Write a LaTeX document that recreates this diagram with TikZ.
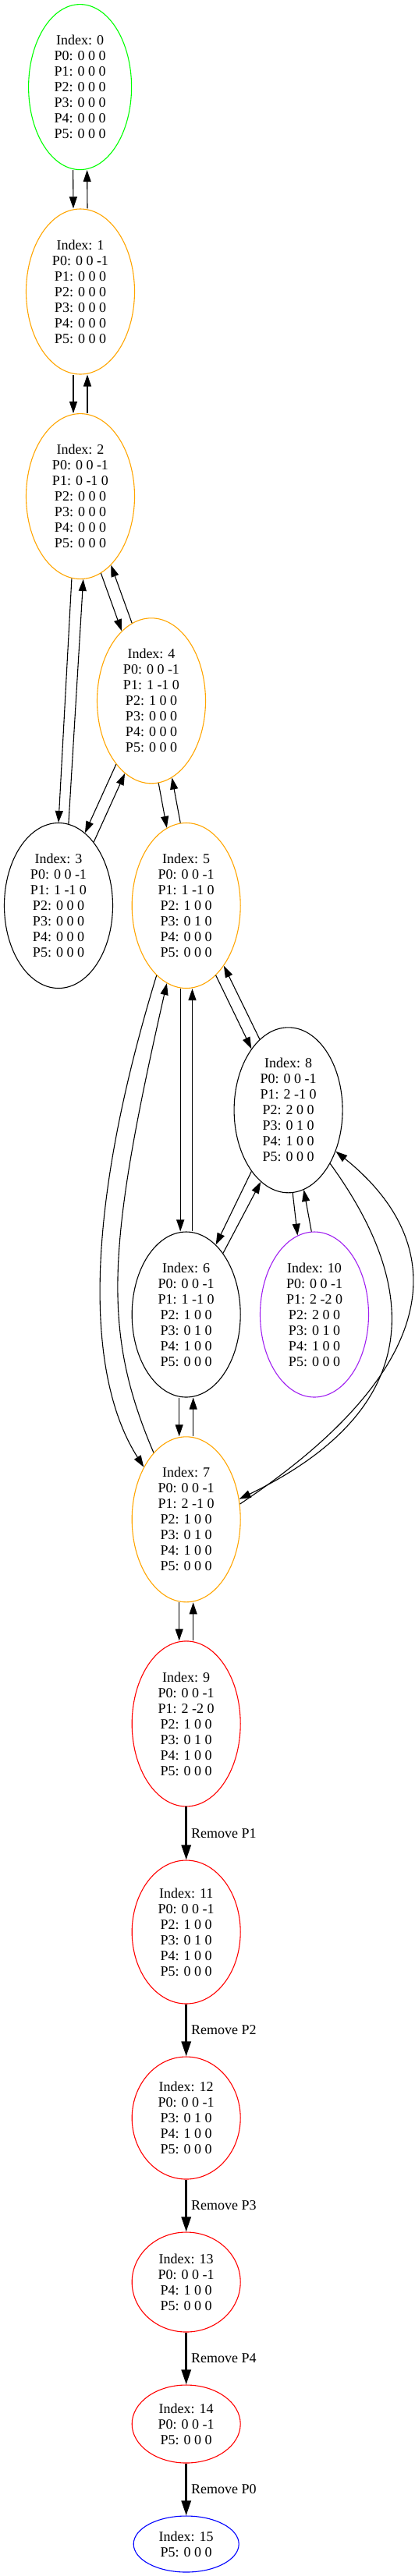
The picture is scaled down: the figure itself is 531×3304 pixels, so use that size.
\documentclass[tikz,border=0pt]{standalone}
\usepackage{fontspec}
\setmainfont{Liberation Serif}
\usetikzlibrary{shapes.geometric, arrows.meta}
\definecolor{gvgreen}{RGB}{0,255,0}
\definecolor{gvorange}{RGB}{255,165,0}
\definecolor{gvpurple}{RGB}{160,32,240}
\definecolor{gvred}{RGB}{255,0,0}
\definecolor{gvblue}{RGB}{0,0,255}

\begin{document}
\begin{tikzpicture}[x=1pt, y=-1pt]
	\tikzstyle{statebox}=[ellipse, draw=black, line width=1.1pt, inner sep=0pt, minimum width=139pt, minimum height=212pt, align=center, font=\fontsize{18}{20}\selectfont]
	\tikzstyle{transarc}=[line width=1.1pt, -{Triangle[length=15pt, width=10pt]}]
	\tikzstyle{removearc}=[line width=2.7pt, -{Triangle[length=19pt, width=12pt]}]

	\useasboundingbox (0,0) rectangle (531,3304);

	% states
	\node[statebox, draw=gvgreen, minimum width=132pt] (state0) at (102.6,111.6) {Index: 0\\P0: 0 0 0\\P1: 0 0 0\\P2: 0 0 0\\P3: 0 0 0\\P4: 0 0 0\\P5: 0 0 0};
	\node[statebox, draw=gvorange] (state1) at (103,374) {Index: 1\\P0: 0 0 -1\\P1: 0 0 0\\P2: 0 0 0\\P3: 0 0 0\\P4: 0 0 0\\P5: 0 0 0};
	\node[statebox, draw=gvorange] (state2) at (103,636.6) {Index: 2\\P0: 0 0 -1\\P1: 0 -1 0\\P2: 0 0 0\\P3: 0 0 0\\P4: 0 0 0\\P5: 0 0 0};
	\node[statebox, draw=gvorange] (state4) at (194,898.8) {Index: 4\\P0: 0 0 -1\\P1: 1 -1 0\\P2: 1 0 0\\P3: 0 0 0\\P4: 0 0 0\\P5: 0 0 0};
	\node[statebox] (state3) at (75,1161.5) {Index: 3\\P0: 0 0 -1\\P1: 1 -1 0\\P2: 0 0 0\\P3: 0 0 0\\P4: 0 0 0\\P5: 0 0 0};
	\node[statebox, draw=gvorange] (state5) at (238.7,1161.5) {Index: 5\\P0: 0 0 -1\\P1: 1 -1 0\\P2: 1 0 0\\P3: 0 1 0\\P4: 0 0 0\\P5: 0 0 0};
	\node[statebox] (state8) at (369.6,1423.8) {Index: 8\\P0: 0 0 -1\\P1: 2 -1 0\\P2: 2 0 0\\P3: 0 1 0\\P4: 1 0 0\\P5: 0 0 0};
	\node[statebox] (state6) at (238.7,1686) {Index: 6\\P0: 0 0 -1\\P1: 1 -1 0\\P2: 1 0 0\\P3: 0 1 0\\P4: 1 0 0\\P5: 0 0 0};
	\node[statebox, draw=gvpurple] (state10) at (403,1686) {Index: 10\\P0: 0 0 -1\\P1: 2 -2 0\\P2: 2 0 0\\P3: 0 1 0\\P4: 1 0 0\\P5: 0 0 0};
	\node[statebox, draw=gvorange] (state7) at (238.7,1948.8) {Index: 7\\P0: 0 0 -1\\P1: 2 -1 0\\P2: 1 0 0\\P3: 0 1 0\\P4: 1 0 0\\P5: 0 0 0};
	\node[statebox, draw=gvred] (state9) at (238.7,2210.9) {Index: 9\\P0: 0 0 -1\\P1: 2 -2 0\\P2: 1 0 0\\P3: 0 1 0\\P4: 1 0 0\\P5: 0 0 0};
	\node[statebox, draw=gvred, minimum height=184pt] (state11) at (238.7,2478) {Index: 11\\P0: 0 0 -1\\P2: 1 0 0\\P3: 0 1 0\\P4: 1 0 0\\P5: 0 0 0};
	\node[statebox, draw=gvred, minimum height=157pt] (state12) at (238.7,2716.5) {Index: 12\\P0: 0 0 -1\\P3: 0 1 0\\P4: 1 0 0\\P5: 0 0 0};
	\node[statebox, draw=gvred, minimum height=128pt] (state13) at (238.7,2927) {Index: 13\\P0: 0 0 -1\\P4: 1 0 0\\P5: 0 0 0};
	\node[statebox, draw=gvred, minimum height=100pt] (state14) at (238.7,3109) {Index: 14\\P0: 0 0 -1\\P5: 0 0 0};
	\node[statebox, draw=gvblue, minimum width=135pt, minimum height=72pt] (state15) at (238.7,3263) {Index: 15\\P5: 0 0 0};

	% straight pairs
	\foreach \a/\b in {0/1, 1/2, 6/7, 7/9}{
		\draw[transarc] ([xshift=-9pt]state\a.south) -- ([xshift=-9pt]state\b.north);
		\draw[transarc] ([xshift=9pt]state\b.north) -- ([xshift=9pt]state\a.south);
	}
	\draw[transarc] ([xshift=-7.5pt]state5.south) -- ([xshift=-7.5pt]state6.north);
	\draw[transarc] ([xshift=7.8pt]state6.north) -- ([xshift=7.8pt]state5.south);

	% diagonal pairs
	\draw[transarc] (state2.-96.8) -- (state3.90.6);
	\draw[transarc] (state3.83) -- (state2.-88.9);
	\draw[transarc] (state2.-75.6) -- (state4.113.9);
	\draw[transarc] (state4.104.8) -- (state2.-66.2);
	\draw[transarc] (state4.-119.1) -- (state3.70.4);
	\draw[transarc] (state3.61.4) -- (state4.-110.2);
	\draw[transarc] (state4.-85) -- (state5.104.4);
	\draw[transarc] (state5.94.9) -- (state4.-75.2);
	\draw[transarc] (state5.-67.7) -- (state8.121.1);
	\draw[transarc] (state8.112.1) -- (state5.-58.2);
	\draw[transarc] (state8.-121.2) -- (state6.67.9);
	\draw[transarc] (state6.59.2) -- (state8.-111.9);
	\draw[transarc] (state8.-87.5) -- (state10.102.9);
	\draw[transarc] (state10.92.7) -- (state8.-79);

	% long curves
	\draw[transarc] (state5.-113.6) .. controls (100,1581.6) and (116,1774.5) .. (state7.129.2);
	\draw[transarc] (state7.116) .. controls (130.1,1706.3) and (137.2,1599.3) .. (state5.-104.5);
	\draw[transarc] (state7.16.6) .. controls (573.9,1751.3) and (577.4,1594.9) .. (state8.-41);
	\draw[transarc] (state8.-52.1) .. controls (529.3,1638.7) and (558.6,1800.7) .. (state7.21.9);

	% removal chain
	\foreach \a/\b/\p in {9/11/P1, 11/12/P2, 12/13/P3, 13/14/P4, 14/15/P0}{
		\draw[removearc] (state\a) -- node[right, inner sep=5pt, font=\fontsize{18}{20}\selectfont] {Remove \p} (state\b);
	}
\end{tikzpicture}
\end{document}
